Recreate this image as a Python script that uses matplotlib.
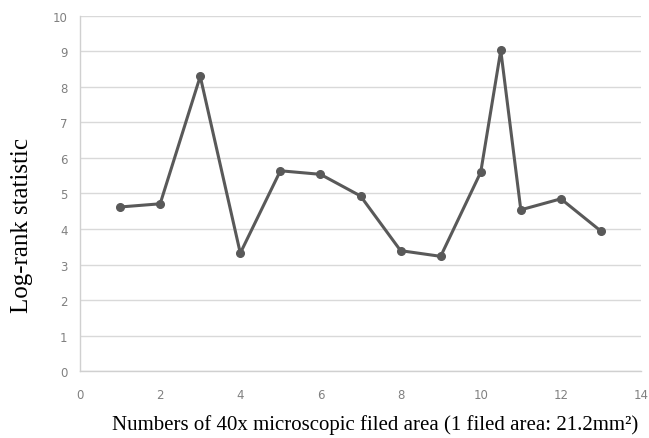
import matplotlib
matplotlib.use("Agg")
import matplotlib.pyplot as plt

# area count vs log-rank statistic
areas = [1, 2, 3, 4, 5, 6, 7, 8, 9, 10, 10.5, 11, 12, 13]
logrank = [4.62, 4.71, 8.30, 3.32, 5.64, 5.54, 4.93, 3.39, 3.23, 5.60, 9.03, 4.54, 4.85, 3.94]

x_ticks = [0, 2, 4, 6, 8, 10, 12, 14]
y_ticks = list(range(0, 11))

fig = plt.figure(figsize=(6.49, 4.39), dpi=100)
ax = fig.add_axes([0.1233, 0.1526, 0.8644, 0.8087])

ax.plot(areas, logrank, color="#595959", lw=2.2, marker="o", ms=5.5,
        markerfacecolor="#595959", markeredgecolor="#595959", zorder=3)

ax.set_xlim(0, 14)
ax.set_ylim(0, 10)
ax.set_xticks(x_ticks)
ax.set_yticks(y_ticks)
ax.grid(axis="y", color="#d9d9d9", lw=1.0)
ax.set_axisbelow(True)

for s in ["top", "right"]:
    ax.spines[s].set_visible(False)
for s in ["left", "bottom"]:
    ax.spines[s].set_color("#d0d0d0")
    ax.spines[s].set_linewidth(1.0)

ax.tick_params(axis="both", length=0, labelsize=8.5, labelcolor="#808080")
ax.tick_params(axis="x", pad=12)
ax.tick_params(axis="y", pad=9)

fig.text(0.034, 0.487, "Log-rank statistic", family="Liberation Serif", fontsize=18,
         rotation=90, ha="center", va="center")
fig.text(0.578, 0.032, "Numbers of 40x microscopic filed area (1 filed area: 21.2mm\u00b2)",
         family="Liberation Serif", fontsize=15, ha="center", va="center")

fig.savefig("out.png", dpi=100)
